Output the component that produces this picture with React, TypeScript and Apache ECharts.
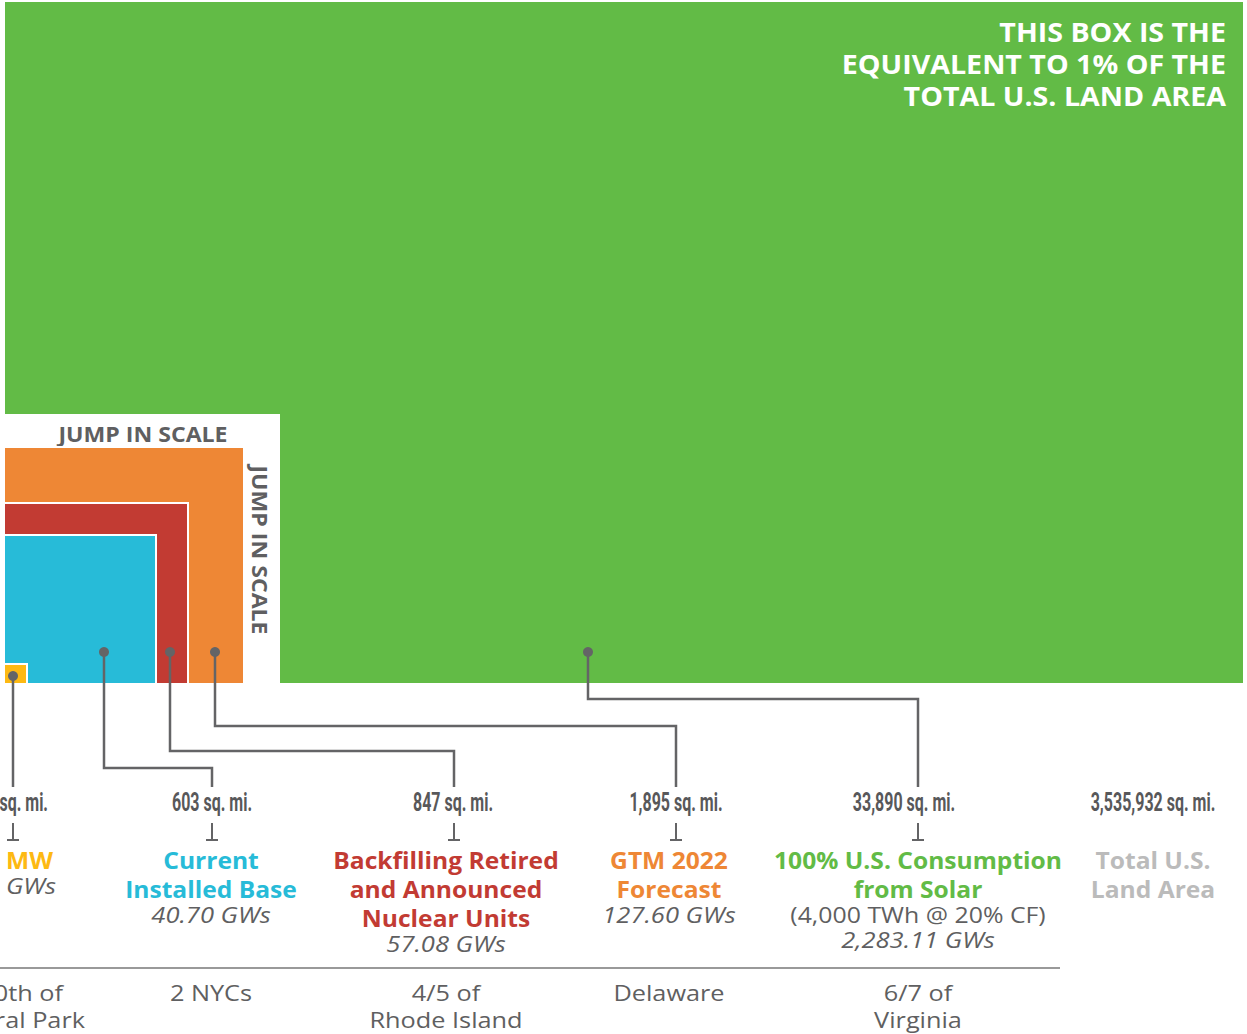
import React, { useEffect, useRef } from "react";
import * as echarts from "echarts";

const W = 1247;
const H = 1034;

// ---- data ----
const categories = [
  "MW",
  "Current Installed Base",
  "Backfilling Retired and Announced Nuclear Units",
  "GTM 2022 Forecast",
  "100% U.S. Consumption from Solar",
  "Total U.S. Land Area",
];
const nameLines = [
  ["MW"],
  ["Current", "Installed Base"],
  ["Backfilling Retired", "and Announced", "Nuclear Units"],
  ["GTM 2022", "Forecast"],
  ["100% U.S. Consumption", "from Solar"],
  ["Total U.S.", "Land Area"],
];
const areaLabels = ["sq. mi.", "603 sq. mi.", "847 sq. mi.", "1,895 sq. mi.", "33,890 sq. mi.", "3,535,932 sq. mi."];
const capacityLabels = ["GWs", "40.70 GWs", "57.08 GWs", "127.60 GWs", "2,283.11 GWs", ""];
const noteLabels = ["", "", "", "", "(4,000 TWh @ 20% CF)", ""];
const comparisonLines = [["0th of", "ral Park"], ["2 NYCs"], ["4/5 of", "Rhode Island"], ["Delaware"], ["6/7 of", "Virginia"], []];
const headlineLines = ["THIS BOX IS THE", "EQUIVALENT TO 1% OF THE", "TOTAL U.S. LAND AREA"];
const scaleNote = "JUMP IN SCALE";
// drawn square sides (the infographic is not to scale): orange, red, blue, yellow
const squareSides = [235, 179, 147, 18];
const squareColorIdx = [3, 2, 1, 0];

// ---- styles / layout ----
const colors = ["#FDB913", "#27BBD8", "#C23B33", "#EE8735", "#62BB46", "#BBBBBB"];
const GREY = "#5f5f61";
const LINE = "#646466";
const SANS = "'Open Sans', 'Noto Sans', sans-serif";
const COND = "Roboto, sans-serif";
const tickX = [13, 212, 454, 676, 918, 1153];
const areaX = [13, 212, 453, 676, 904, 1153];
const textX = [13, 211, 446, 669, 918, 1153];
const col0Right = { area: 48, name: 53, cap: 56, comp: [63, 85] };
const dotX = [13, 104, 170, 215, 588];
const dotY = [676, 652, 652, 652, 652];
const elbowY = [null, 768, 751, 726, 699];
const baseX = 5;
const baseY = 683;

function textEl(x: number, y: number, text: string, opts: any) {
  const align = opts.align || "center";
  return {
    type: "text",
    x,
    y,
    scaleX: opts.scaleX || 1,
    rotation: opts.rotation || 0,
    style: {
      text,
      x: 0,
      y: 0,
      fill: opts.fill || GREY,
      fontSize: opts.fontSize || 22,
      fontFamily: opts.fontFamily || SANS,
      fontWeight: opts.fontWeight || "normal",
      fontStyle: opts.fontStyle || "normal",
      align,
      textAlign: align,
      verticalAlign: "middle",
      textVerticalAlign: "middle",
    },
  };
}

export default function App() {
  const ref = useRef<HTMLDivElement>(null);
  useEffect(() => {
    if (!ref.current) return;
    document.body.style.margin = "0";
    const chart = echarts.init(ref.current, undefined, { renderer: "svg", width: W, height: H });

    const bgSeries = {
      type: "custom",
      z: 1,
      data: [[0, 0]],
      renderItem: (_p: any, api: any) => {
        const g0 = api.coord([baseX, 2]);
        const g1 = api.coord([1243, baseY]);
        const w0 = api.coord([0, 414]);
        const w1 = api.coord([280, baseY]);
        const children: any[] = [
          { type: "rect", shape: { x: g0[0], y: g0[1], width: g1[0] - g0[0], height: g1[1] - g0[1] }, style: { fill: colors[4] } },
          { type: "rect", shape: { x: w0[0], y: w0[1], width: w1[0] - w0[0], height: w1[1] - w0[1] }, style: { fill: "#ffffff" } },
        ];
        headlineLines.forEach((t, k) => {
          const p = api.coord([1226, 32 + 32 * k]);
          children.push(textEl(p[0], p[1], t, { align: "right", fill: "#ffffff", fontWeight: "bold", fontSize: 26, scaleX: 1.1 }));
        });
        const h = api.coord([143, 433]);
        children.push(textEl(h[0], h[1], scaleNote, { fontWeight: "bold", fontSize: 21, scaleX: 1.1 }));
        const v = api.coord([261, 550]);
        children.push(textEl(v[0], v[1], scaleNote, { fontWeight: "bold", fontSize: 21, scaleX: 1.1, rotation: -Math.PI / 2 }));
        return { type: "group", children };
      },
    };

    const squareSeries = {
      type: "custom",
      z: 2,
      data: squareSides.map((s, i) => [s, squareColorIdx[i]]),
      renderItem: (_p: any, api: any) => {
        const side = api.value(0);
        const ci = api.value(1);
        const p0 = api.coord([baseX, baseY - side]);
        const p1 = api.coord([baseX + side + 3, baseY]);
        return {
          type: "group",
          children: [
            { type: "rect", shape: { x: p0[0], y: p0[1] - 2, width: p1[0] - p0[0] + 2, height: p1[1] - p0[1] + 2 }, style: { fill: "#ffffff" } },
            { type: "rect", shape: { x: p0[0], y: p0[1], width: p1[0] - p0[0], height: p1[1] - p0[1] }, style: { fill: colors[ci] } },
          ],
        };
      },
    };

    const connectorSeries = {
      type: "custom",
      z: 3,
      data: dotX.map((x, i) => [x, dotY[i]]),
      renderItem: (p: any, api: any) => {
        const i = p.dataIndex;
        const x = api.value(0);
        const y = api.value(1);
        const pts: number[][] = [[x, y]];
        if (elbowY[i] != null) {
          pts.push([x, elbowY[i] as number]);
          pts.push([tickX[i], elbowY[i] as number]);
        }
        pts.push([tickX[i], 787]);
        const c = api.coord([x, y]);
        return {
          type: "group",
          children: [
            { type: "polyline", shape: { points: pts.map((q) => api.coord(q)) }, style: { stroke: LINE, lineWidth: 2.5, fill: "none" } },
            { type: "circle", shape: { cx: c[0], cy: c[1], r: 5 }, style: { fill: LINE } },
          ],
        };
      },
    };

    const labelSeries = {
      type: "custom",
      z: 4,
      data: categories.map((_c, i) => [textX[i], 803]),
      renderItem: (p: any, api: any) => {
        const i = p.dataIndex;
        const x = api.value(0);
        const first = i === 0;
        const children: any[] = [];
        const at = (xx: number, yy: number) => api.coord([xx, yy]);
        // area
        const q = at(first ? col0Right.area : areaX[i], 803);
        children.push(textEl(q[0], q[1], areaLabels[i], { align: first ? "right" : "center", fontFamily: COND, fontWeight: "bold", fontSize: 25, scaleX: 0.64, fill: "#58585a" }));
        // perpendicular tick
        if (i < 5) {
          const t0 = at(tickX[i], 823);
          const t1 = at(tickX[i], 840);
          children.push({ type: "line", shape: { x1: t0[0], y1: t0[1], x2: t1[0], y2: t1[1] }, style: { stroke: LINE, lineWidth: 2 } });
          children.push({ type: "line", shape: { x1: t0[0] - 6, y1: t1[1], x2: t0[0] + 6, y2: t1[1] }, style: { stroke: LINE, lineWidth: 2 } });
        }
        // names
        let y = 860;
        nameLines[i].forEach((t, k) => {
          y = 860 + 29 * k;
          const r = at(first ? col0Right.name : x, y);
          children.push(textEl(r[0], r[1], t, { align: first ? "right" : "center", fill: colors[i], fontWeight: "bold", fontSize: 23, scaleX: 1.07 }));
        });
        if (noteLabels[i]) {
          y += 26;
          const r = at(x, y);
          children.push(textEl(r[0], r[1], noteLabels[i], { fontSize: 22, scaleX: 1.13 }));
          y -= 1;
        }
        if (capacityLabels[i]) {
          y += 26;
          const r = at(first ? col0Right.cap : x, y);
          children.push(textEl(r[0], r[1], capacityLabels[i], { align: first ? "right" : "center", fontSize: 22, fontStyle: "italic", scaleX: 1.16 }));
        }
        comparisonLines[i].forEach((t, k) => {
          const r = at(first ? col0Right.comp[k] : x, 993 + 27 * k);
          children.push(textEl(r[0], r[1], t, { align: first ? "right" : "center", fontSize: 22, scaleX: 1.15 }));
        });
        if (i === 0) {
          const l0 = at(0, 968);
          const l1 = at(1060, 968);
          children.push({ type: "line", shape: { x1: l0[0], y1: l0[1], x2: l1[0], y2: l1[1] }, style: { stroke: "#777777", lineWidth: 1.5 } });
        }
        return { type: "group", children };
      },
    };

    chart.setOption({
      animation: false,
      grid: { left: 0, right: 0, top: 0, bottom: 0 },
      xAxis: { type: "value", min: 0, max: W, show: false },
      yAxis: { type: "value", min: 0, max: H, inverse: true, show: false },
      tooltip: { show: false },
      series: [bgSeries, squareSeries, connectorSeries, labelSeries],
    });
    return () => chart.dispose();
  }, []);
  return <div ref={ref} style={{ width: W, height: H, background: "#ffffff" }} />;
}
